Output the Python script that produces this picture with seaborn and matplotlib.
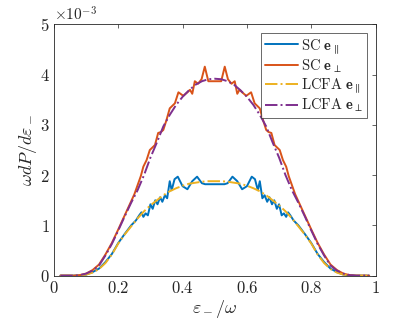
import seaborn as sns
import matplotlib.pyplot as plt

# values in units of 1e-3
x_lcfa = [0.02, 0.04, 0.06, 0.08, 0.10, 0.12, 0.14, 0.16, 0.18, 0.20, 0.22, 0.24,
          0.26, 0.28, 0.30, 0.32, 0.34, 0.36, 0.38, 0.40, 0.42, 0.44, 0.46, 0.48,
          0.50, 0.52, 0.54, 0.56, 0.58, 0.60, 0.62, 0.64, 0.66, 0.68, 0.70, 0.72,
          0.74, 0.76, 0.78, 0.80, 0.82, 0.84, 0.86, 0.88, 0.90, 0.92, 0.94, 0.96, 0.98]
lcfa_perp = [0.0, 0.0, 0.0, 0.01, 0.04, 0.1, 0.2, 0.4, 0.63, 0.9, 1.18, 1.45,
             1.7, 2.0, 2.35, 2.65, 2.97, 3.2, 3.4, 3.56, 3.69, 3.8, 3.87, 3.91,
             3.92, 3.91, 3.87, 3.8, 3.69, 3.56, 3.4, 3.2, 2.97, 2.65, 2.35, 2.0,
             1.7, 1.45, 1.18, 0.9, 0.63, 0.4, 0.2, 0.1, 0.04, 0.01, 0.0, 0.0, 0.0]
lcfa_par = [0.0, 0.0, 0.0, 0.005, 0.02, 0.06, 0.13, 0.25, 0.42, 0.64, 0.82, 0.98,
            1.14, 1.28, 1.4, 1.5, 1.6, 1.68, 1.74, 1.79, 1.83, 1.85, 1.87, 1.88,
            1.88, 1.88, 1.87, 1.85, 1.83, 1.79, 1.74, 1.68, 1.6, 1.5, 1.4, 1.28,
            1.14, 0.98, 0.82, 0.64, 0.42, 0.25, 0.13, 0.06, 0.02, 0.005, 0.0, 0.0, 0.0]

x_sc_par = [0.02, 0.04, 0.06, 0.08, 0.10, 0.12, 0.14, 0.16, 0.18, 0.20, 0.22, 0.24,
            0.255, 0.265, 0.272,
            0.278, 0.285, 0.292, 0.30, 0.307, 0.315, 0.322, 0.33, 0.337, 0.345,
            0.352, 0.36, 0.366, 0.375, 0.385, 0.40, 0.415, 0.43, 0.445, 0.46,
            0.47, 0.50, 0.53, 0.54, 0.555, 0.57, 0.585, 0.60, 0.615, 0.625, 0.634,
            0.64, 0.648, 0.655, 0.663, 0.67, 0.678, 0.685, 0.693, 0.70, 0.708,
            0.715, 0.722, 0.728, 0.735, 0.745,
            0.76, 0.78, 0.80, 0.82, 0.84, 0.86, 0.88, 0.90, 0.92, 0.94, 0.96, 0.98]
sc_par = [0.0, 0.0, 0.0, 0.005, 0.02, 0.07, 0.14, 0.27, 0.43, 0.65, 0.83, 1.0,
          1.1, 1.2, 1.26,
          1.17, 1.24, 1.2, 1.42, 1.33, 1.5, 1.42, 1.56, 1.47, 1.6,
          1.54, 1.88, 1.7, 1.92, 1.97, 1.78, 1.72, 1.88, 1.97, 1.84,
          1.82, 1.82, 1.82, 1.84, 1.97, 1.88, 1.72, 1.78, 1.97, 1.92, 1.7,
          1.88, 1.54, 1.6, 1.47, 1.56, 1.42, 1.5, 1.33, 1.42, 1.2,
          1.24, 1.17, 1.26, 1.2, 1.1,
          1.0, 0.83, 0.65, 0.43, 0.27, 0.14, 0.07, 0.02, 0.005, 0.0, 0.0, 0.0]

x_sc_perp = [0.02, 0.04, 0.06, 0.08, 0.10, 0.12, 0.14, 0.16, 0.18, 0.20, 0.22, 0.24,
             0.25, 0.26, 0.27,
             0.278, 0.288, 0.298, 0.306, 0.314, 0.324, 0.333, 0.34, 0.35, 0.36,
             0.376, 0.387, 0.402, 0.415, 0.423, 0.43, 0.438, 0.448, 0.459, 0.469,
             0.48, 0.50, 0.52, 0.531, 0.541, 0.552, 0.562, 0.57, 0.577, 0.585,
             0.598, 0.613, 0.624, 0.64, 0.65, 0.66, 0.667, 0.676, 0.686, 0.694,
             0.702, 0.712, 0.722, 0.73, 0.74, 0.75,
             0.76, 0.78, 0.80, 0.82, 0.84, 0.86, 0.88, 0.90, 0.92, 0.94, 0.96, 0.98]
sc_perp = [0.0, 0.0, 0.0, 0.01, 0.04, 0.11, 0.22, 0.42, 0.65, 0.92, 1.2, 1.48,
           1.62, 1.8, 1.98,
           2.17, 2.3, 2.5, 2.55, 2.6, 2.84, 2.86, 2.9, 3.1, 3.33,
           3.43, 3.65, 3.58, 3.65, 3.7, 3.62, 3.87, 3.82, 3.91, 4.16,
           3.87, 3.87, 3.87, 4.16, 3.91, 3.82, 3.87, 3.62, 3.7, 3.65,
           3.58, 3.65, 3.43, 3.33, 3.1, 2.9, 2.86, 2.84, 2.6, 2.55,
           2.5, 2.3, 2.17, 1.98, 1.8, 1.62,
           1.48, 1.2, 0.92, 0.65, 0.42, 0.22, 0.11, 0.04, 0.01, 0.0, 0.0, 0.0]

labels = [r'$\mathrm{SC}\ \mathbf{e}_{\parallel}$', r'$\mathrm{SC}\ \mathbf{e}_{\perp}$',
          r'$\mathrm{LCFA}\ \mathbf{e}_{\parallel}$', r'$\mathrm{LCFA}\ \mathbf{e}_{\perp}$']
colors = ['#0072BD', '#D95319', '#EDB120', '#7E2F8E']

sns.set_style('white')
plt.rcParams['mathtext.fontset'] = 'cm'
plt.rcParams['font.family'] = ['DejaVu Serif']

fig = plt.figure(figsize=(4.15, 3.22), dpi=100)
ax = fig.add_axes([0.130, 0.144, 0.775, 0.780])

sns.lineplot(x=x_sc_par, y=sc_par, ax=ax, color=colors[0], lw=1.4, label=labels[0])
sns.lineplot(x=x_sc_perp, y=sc_perp, ax=ax, color=colors[1], lw=1.4, label=labels[1])
sns.lineplot(x=x_lcfa, y=lcfa_par, ax=ax, color=colors[2], lw=1.4, ls='-.', label=labels[2])
sns.lineplot(x=x_lcfa, y=lcfa_perp, ax=ax, color=colors[3], lw=1.4, ls='-.', label=labels[3])

ax.set_xlim(0, 1)
ax.set_ylim(0, 5)
xt = [0, 0.2, 0.4, 0.6, 0.8, 1]
yt = [0, 1, 2, 3, 4, 5]
ax.set_xticks(xt)
ax.set_xticklabels([r'$%g$' % v for v in xt], fontsize=12)
ax.set_yticks(yt)
ax.set_yticklabels([r'$%g$' % v for v in yt], fontsize=12)
ax.tick_params(direction='in', length=3, width=0.5, color='#262626', top=True, right=True,
               pad=3)
for s in ax.spines.values():
    s.set_linewidth(0.6)
    s.set_color('#262626')

ax.set_xlabel(r'$\varepsilon_-/\omega$', fontsize=13, labelpad=1)
ax.set_ylabel(r'$\omega dP/d\varepsilon_-$', fontsize=13, labelpad=1)
ax.text(0.0, 1.005, r'$\times 10^{-3}$', transform=ax.transAxes, fontsize=11,
        ha='left', va='bottom')

leg = ax.legend(loc='upper right', fontsize=10.5, frameon=True, fancybox=False,
                handlelength=2.3, handletextpad=0.2, borderpad=0.25, labelspacing=0.1,
                borderaxespad=0.6)
leg.get_frame().set_edgecolor('#262626')
leg.get_frame().set_linewidth(0.6)

fig.savefig('out.png', dpi=100)
